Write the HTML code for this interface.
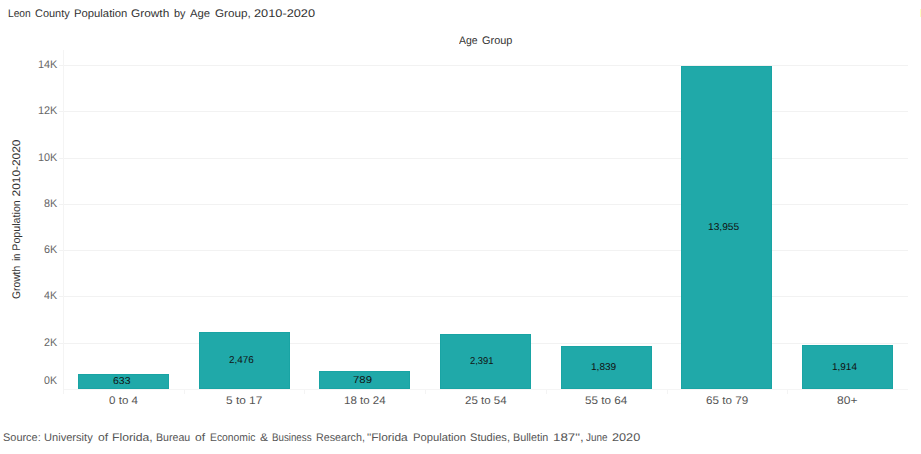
<!DOCTYPE html>
<html><head><meta charset="utf-8"><title>Leon County Population Growth by Age Group, 2010-2020</title>
<style>
html,body{margin:0;padding:0;background:#fff;}
body{width:921px;height:454px;overflow:hidden;position:relative;font-family:"Liberation Sans",sans-serif;}
.t{position:absolute;white-space:nowrap;line-height:1;transform-origin:0 0;text-rendering:geometricPrecision;}
.hl{position:absolute;height:1px;background:#f2f2f2;}
.vl{position:absolute;width:1px;background:#f4f4f4;}
.bar{position:absolute;box-sizing:border-box;width:91px;background:#20a9a9;border:1px solid #19a4a4;}
</style></head><body>

<div class="hl" style="left:59px;width:849px;top:65px"></div>
<div class="hl" style="left:59px;width:849px;top:111px"></div>
<div class="hl" style="left:59px;width:849px;top:158px"></div>
<div class="hl" style="left:59px;width:849px;top:204px"></div>
<div class="hl" style="left:59px;width:849px;top:250px"></div>
<div class="hl" style="left:59px;width:849px;top:296px"></div>
<div class="hl" style="left:59px;width:849px;top:343px"></div>
<div class="hl" style="left:63px;width:845px;top:389px;background:#f5f5f5"></div>
<div class="vl" style="left:63px;top:50px;height:344px"></div>
<div class="vl" style="left:184px;top:390px;height:4px"></div>
<div class="vl" style="left:304px;top:390px;height:4px"></div>
<div class="vl" style="left:425px;top:390px;height:4px"></div>
<div class="vl" style="left:546px;top:390px;height:4px"></div>
<div class="vl" style="left:667px;top:390px;height:4px"></div>
<div class="vl" style="left:787px;top:390px;height:4px"></div>
<div style="position:absolute;left:920px;top:9px;width:1px;height:8px;background:#ffffc0"></div>
<div class="bar" style="left:78px;top:374px;height:15px"></div>
<div class="bar" style="left:199px;top:332px;height:57px"></div>
<div class="bar" style="left:319px;top:371px;height:18px"></div>
<div class="bar" style="left:440px;top:334px;height:55px"></div>
<div class="bar" style="left:561px;top:346px;height:43px"></div>
<div class="bar" style="left:681px;top:66px;height:323px"></div>
<div class="bar" style="left:802px;top:345px;height:44px"></div>
<div class="t" style="left:7.51px;top:9px;font-size:11px;color:#333;transform:scaleX(0.9294)">Leon</div>
<div class="t" style="left:34.76px;top:9px;font-size:11px;color:#333;transform:scaleX(0.9960)">County</div>
<div class="t" style="left:74.42px;top:9px;font-size:11px;color:#333;transform:scaleX(1.0258)">Population</div>
<div class="t" style="left:131.32px;top:9px;font-size:11px;color:#333;transform:scaleX(1.0781)">Growth</div>
<div class="t" style="left:174.07px;top:9px;font-size:11px;color:#333;transform:scaleX(0.9855)">by</div>
<div class="t" style="left:189.87px;top:9px;font-size:11px;color:#333;transform:scaleX(1.0307)">Age</div>
<div class="t" style="left:215.03px;top:9px;font-size:11px;color:#333;transform:scaleX(1.0599)">Group,</div>
<div class="t" style="left:253.85px;top:9px;font-size:11px;color:#333;transform:scaleX(1.1599)">2010-2020</div>
<div class="t" style="left:459.38px;top:36px;font-size:11px;color:#333;transform:scaleX(0.9510)">Age</div>
<div class="t" style="left:481.58px;top:36px;font-size:11px;color:#333;transform:scaleX(0.9929)">Group</div>
<div class="t" style="left:37.93px;top:60px;font-size:11px;color:#666;transform:scaleX(0.9906)">14K</div>
<div class="t" style="left:37.93px;top:106px;font-size:11px;color:#666;transform:scaleX(0.9906)">12K</div>
<div class="t" style="left:38.03px;top:153px;font-size:11px;color:#666;transform:scaleX(0.9851)">10K</div>
<div class="t" style="left:44.12px;top:199px;font-size:11px;color:#666;transform:scaleX(0.9829)">8K</div>
<div class="t" style="left:44.08px;top:245px;font-size:11px;color:#666;transform:scaleX(0.9856)">6K</div>
<div class="t" style="left:44.32px;top:291px;font-size:11px;color:#666;transform:scaleX(0.9678)">4K</div>
<div class="t" style="left:44.18px;top:338px;font-size:11px;color:#666;transform:scaleX(0.9786)">2K</div>
<div class="t" style="left:44.35px;top:376px;font-size:11px;color:#666;transform:scaleX(0.9652)">0K</div>
<div class="t" style="left:109.05px;top:396px;font-size:11px;color:#555;transform:scaleX(1.0531)">0 to 4</div>
<div class="t" style="left:226.04px;top:396px;font-size:11px;color:#555;transform:scaleX(1.0798)">5 to 17</div>
<div class="t" style="left:343.86px;top:396px;font-size:11px;color:#555;transform:scaleX(1.0456)">18 to 24</div>
<div class="t" style="left:464.73px;top:396px;font-size:11px;color:#555;transform:scaleX(1.0465)">25 to 54</div>
<div class="t" style="left:585.16px;top:396px;font-size:11px;color:#555;transform:scaleX(1.0637)">55 to 64</div>
<div class="t" style="left:705.93px;top:396px;font-size:11px;color:#555;transform:scaleX(1.0607)">65 to 79</div>
<div class="t" style="left:837.32px;top:396px;font-size:11px;color:#555;transform:scaleX(1.0952)">80+</div>
<div class="t" style="left:113.11px;top:377px;font-size:10px;color:#111;transform:scaleX(1.0473)">633</div>
<div class="t" style="left:228.60px;top:356px;font-size:10px;color:#111;transform:scaleX(0.9861)">2,476</div>
<div class="t" style="left:352.96px;top:376px;font-size:10px;color:#111;transform:scaleX(1.1362)">789</div>
<div class="t" style="left:469.73px;top:357px;font-size:10px;color:#111;transform:scaleX(0.9395)">2,391</div>
<div class="t" style="left:590.61px;top:363px;font-size:10px;color:#111;transform:scaleX(1.0074)">1,839</div>
<div class="t" style="left:707.60px;top:223px;font-size:10px;color:#111;transform:scaleX(1.0166)">13,955</div>
<div class="t" style="left:831.92px;top:363px;font-size:10px;color:#111;transform:scaleX(0.9970)">1,914</div>
<div class="t" style="left:2.98px;top:433px;font-size:11px;color:#555;transform:scaleX(0.9952)">Source:</div>
<div class="t" style="left:43.99px;top:433px;font-size:11px;color:#555;transform:scaleX(1.0085)">University</div>
<div class="t" style="left:97.79px;top:433px;font-size:11px;color:#555;transform:scaleX(1.1041)">of</div>
<div class="t" style="left:112.06px;top:433px;font-size:11px;color:#555;transform:scaleX(1.1099)">Florida,</div>
<div class="t" style="left:155.78px;top:433px;font-size:11px;color:#555;transform:scaleX(0.9638)">Bureau</div>
<div class="t" style="left:194.89px;top:433px;font-size:11px;color:#555;transform:scaleX(1.1041)">of</div>
<div class="t" style="left:209.90px;top:433px;font-size:11px;color:#555;transform:scaleX(0.9414)">Economic</div>
<div class="t" style="left:259.53px;top:433px;font-size:11px;color:#555;transform:scaleX(1.0918)">&amp;</div>
<div class="t" style="left:271.75px;top:433px;font-size:11px;color:#555;transform:scaleX(0.8853)">Business</div>
<div class="t" style="left:315.77px;top:433px;font-size:11px;color:#555;transform:scaleX(0.9761)">Research,</div>
<div class="t" style="left:367.27px;top:433px;font-size:11px;color:#555;transform:scaleX(1.0840)">"Florida</div>
<div class="t" style="left:413.03px;top:433px;font-size:11px;color:#555;transform:scaleX(1.0192)">Population</div>
<div class="t" style="left:469.57px;top:433px;font-size:11px;color:#555;transform:scaleX(1.0056)">Studies,</div>
<div class="t" style="left:513.36px;top:433px;font-size:11px;color:#555;transform:scaleX(0.9793)">Bulletin</div>
<div class="t" style="left:552.78px;top:433px;font-size:11px;color:#555;transform:scaleX(1.2128)">187",</div>
<div class="t" style="left:586.16px;top:433px;font-size:11px;color:#555;transform:scaleX(0.9003)">June</div>
<div class="t" style="left:612.16px;top:433px;font-size:11px;color:#555;transform:scaleX(1.1519)">2020</div>
<div class="t" style="left:0;top:0;font-size:11px;color:#333;transform:translate(12px,298.98px) rotate(-90deg) scaleX(0.9342)">Growth</div>
<div class="t" style="left:0;top:0;font-size:11px;color:#333;transform:translate(12px,260.63px) rotate(-90deg) scaleX(0.8114)">in</div>
<div class="t" style="left:0;top:0;font-size:11px;color:#333;transform:translate(12px,250.73px) rotate(-90deg) scaleX(0.9719)">Population</div>
<div class="t" style="left:0;top:0;font-size:11px;color:#333;transform:translate(12px,196.40px) rotate(-90deg) scaleX(1.0801)">2010-2020</div>
</body></html>
